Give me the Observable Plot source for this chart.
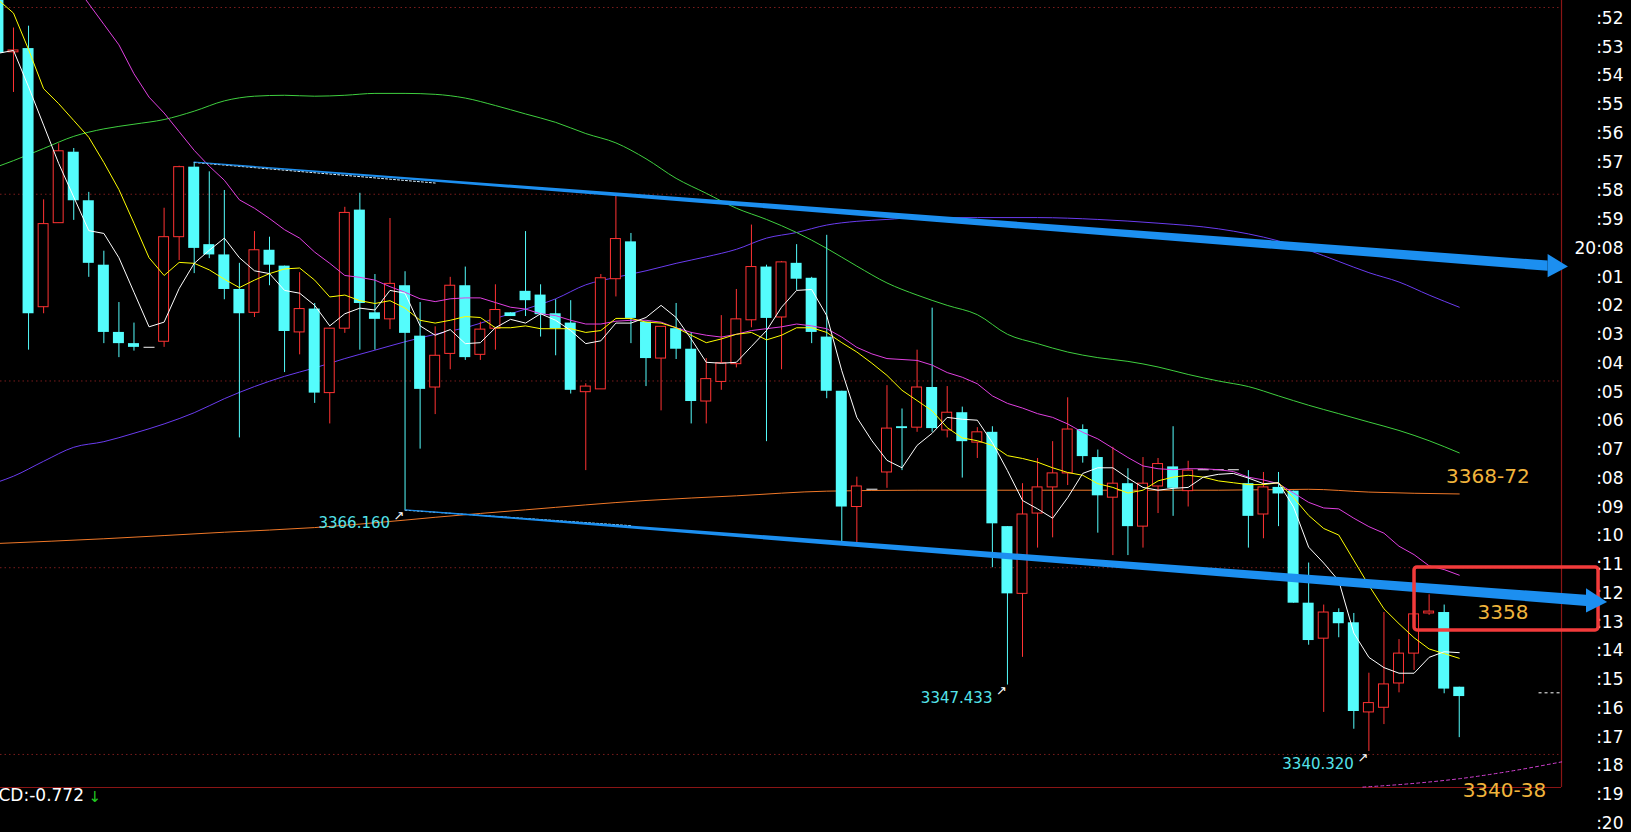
<!DOCTYPE html>
<html><head><meta charset="utf-8">
<script src="https://cdn.jsdelivr.net/npm/d3@7"></script>
<script src="https://cdn.jsdelivr.net/npm/@observablehq/plot@0.6"></script>
<style>
html,body{margin:0;padding:0;background:#000;overflow:hidden;}
#chart svg{display:block;background:#000;}
</style></head><body><div id="chart"></div>
<script>
// ---- candle data (index -1 .. 96) ----
const candleIdx = d3.range(-1, 97);
const opens = [3424.0,3415.2,3415.6,3387.9,3396.9,3404.5,3399.3,3392.4,3385.2,3384.0,3383.6,3384.2,3395.4,3402.9,3394.6,3393.5,3389.8,3387.3,3394.0,3392.3,3385.2,3387.7,3378.7,3385.6,3398.3,3387.3,3386.6,3390.2,3384.8,3379.3,3382.9,3390.2,3382.8,3385.6,3387.3,3389.6,3389.2,3387.2,3386.2,3378.8,3379.1,3390.9,3394.9,3386.3,3382.4,3385.6,3383.4,3377.8,3379.9,3381.8,3386.5,3392.2,3386.8,3392.6,3391.0,3384.7,3378.9,3366.5,3368.4,3370.2,3375.1,3375.0,3379.3,3374.7,3376.6,3373.4,3374.5,3364.4,3357.2,3365.8,3368.6,3370.1,3374.8,3371.8,3367.5,3369.0,3364.4,3368.7,3370.8,3368.2,3370.5,3370.5,3370.5,3369.0,3365.7,3368.6,3368.2,3356.2,3352.4,3355.2,3354.1,3344.5,3345.0,3347.6,3350.8,3355.1,3355.2,3347.2];
const closes = [3415.1,3415.4,3387.2,3396.8,3404.6,3399.3,3392.6,3385.2,3384.0,3383.6,3383.6,3395.4,3402.9,3394.2,3393.5,3389.8,3387.2,3394.0,3392.4,3385.3,3387.7,3378.7,3385.6,3398.0,3388.3,3386.6,3390.4,3385.1,3379.1,3382.7,3390.2,3382.5,3385.5,3387.6,3386.9,3388.6,3387.1,3385.6,3379.0,3379.4,3391.0,3395.2,3386.7,3382.4,3385.8,3383.4,3377.8,3380.2,3381.9,3386.6,3392.2,3386.7,3392.7,3390.9,3385.2,3378.9,3366.5,3368.7,3368.4,3374.9,3374.9,3379.3,3374.9,3376.6,3373.5,3374.5,3364.7,3357.2,3365.7,3368.6,3370.1,3374.8,3371.9,3367.7,3369.0,3364.4,3369.0,3371.1,3368.5,3370.4,3370.5,3370.5,3370.5,3365.5,3368.6,3367.9,3356.2,3352.2,3355.2,3354.0,3344.6,3345.5,3347.5,3350.8,3355.0,3355.3,3347.0,3346.2];
const highs = [3425.0,3417.8,3418.0,3399.4,3405.4,3404.9,3400.2,3393.9,3388.4,3386.2,3383.6,3398.5,3403.0,3403.4,3402.4,3400.4,3392.6,3396.0,3395.4,3392.3,3391.6,3388.3,3385.6,3398.6,3400.1,3391.4,3397.4,3391.7,3388.4,3385.8,3391.1,3392.2,3386.3,3390.3,3387.3,3396.0,3390.3,3388.7,3388.6,3379.7,3391.4,3399.9,3395.8,3386.3,3385.8,3388.3,3385.2,3382.4,3387.0,3389.8,3396.7,3392.4,3392.8,3394.6,3391.1,3395.6,3378.9,3369.7,3368.4,3379.5,3377.0,3383.3,3387.8,3379.4,3377.2,3375.0,3375.1,3364.4,3369.0,3371.7,3373.5,3378.2,3375.3,3372.6,3372.9,3370.6,3371.8,3371.7,3375.1,3371.4,3370.5,3370.5,3370.5,3370.4,3370.2,3370.2,3368.2,3360.5,3356.0,3355.6,3355.1,3348.7,3355.2,3352.3,3355.0,3357.1,3356.0,3347.2];
const lows = [3415.1,3410.9,3383.3,3387.2,3396.9,3397.2,3391.1,3384.0,3382.5,3383.2,3383.6,3383.6,3392.9,3391.5,3393.1,3388.7,3373.9,3386.8,3390.2,3380.9,3382.8,3377.6,3375.4,3385.1,3383.3,3383.3,3385.5,3366.16,3372.7,3376.4,3381.2,3382.2,3382.2,3383.3,3386.9,3386.9,3384.7,3382.7,3378.6,3370.4,3379.1,3389.0,3384.0,3379.4,3376.8,3382.3,3375.4,3375.4,3379.0,3381.4,3385.7,3373.5,3381.2,3389.7,3384.0,3378.1,3362.7,3362.7,3368.4,3368.5,3370.4,3374.5,3374.5,3373.9,3369.6,3371.7,3360.0,3347.433,3350.4,3362.1,3363.2,3368.8,3371.2,3363.7,3361.3,3361.3,3362.1,3365.8,3365.5,3366.5,3370.5,3370.5,3370.5,3362.1,3363.1,3364.4,3356.2,3351.7,3344.5,3352.5,3342.7,3340.32,3343.2,3346.6,3349.0,3354.9,3346.5,3341.8];

// ---- moving averages ----
const ma5 = [3415.1,3415.4,3411.5,3407.4,3403.3,3399.7,3396.1,3395.8,3393.2,3389.5,3385.8,3386.3,3389.9,3392.6,3394.0,3395.3,3393.2,3391.8,3391.5,3389.7,3389.4,3388.1,3385.9,3387.2,3387.8,3387.6,3389.7,3389.4,3385.9,3384.9,3385.5,3384.0,3384.1,3385.7,3386.6,3386.2,3387.2,3386.5,3385.4,3384.0,3384.3,3386.2,3386.2,3386.8,3388.1,3386.8,3384.5,3382.0,3381.9,3382.0,3383.7,3385.4,3387.9,3389.7,3389.8,3387.0,3381.1,3376.1,3373.6,3371.5,3370.7,3373.1,3374.4,3376.1,3375.9,3375.8,3373.4,3370.4,3367.2,3366.3,3365.3,3367.5,3370.1,3370.7,3370.7,3369.6,3368.6,3368.3,3368.5,3368.6,3369.7,3370.0,3370.1,3369.6,3369.0,3369.1,3366.5,3362.2,3360.5,3358.6,3353.0,3350.4,3349.3,3348.7,3348.7,3350.4,3351.0,3350.9];
const ma10 = [3420.8,3419.4,3415.5,3411.3,3409.7,3407.9,3406.1,3403.4,3400.5,3396.9,3393.2,3391.3,3392.7,3392.6,3391.9,3390.9,3390.0,3390.8,3391.5,3392.0,3392.1,3390.8,3389.0,3389.2,3388.6,3388.3,3388.6,3387.8,3386.5,3386.2,3386.5,3386.9,3386.8,3385.7,3385.7,3385.9,3385.6,3385.6,3385.6,3385.2,3385.4,3386.7,3386.7,3386.3,3386.2,3385.7,3384.9,3384.1,3384.5,3385.0,3385.2,3384.4,3384.9,3385.7,3385.7,3385.2,3384.1,3383.1,3381.9,3380.6,3379.0,3377.9,3376.8,3375.0,3373.9,3373.6,3373.1,3372.0,3371.7,3371.3,3370.7,3370.2,3369.9,3369.0,3368.6,3368.0,3368.3,3369.3,3369.7,3369.9,3369.7,3369.3,3369.1,3368.9,3368.9,3369.1,3367.5,3365.6,3364.2,3363.5,3360.8,3358.1,3355.6,3354.0,3352.5,3351.3,3350.8,3350.3];
const ma20Idx = d3.range(3, 97);
const ma20 = [3424.7,3422.6,3420.4,3418.2,3416.0,3412.9,3410.4,3408.7,3406.7,3404.7,3403.0,3401.5,3399.4,3398.5,3397.4,3396.2,3395.3,3393.8,3392.6,3391.3,3391.1,3390.8,3390.1,3389.5,3388.8,3388.5,3388.8,3388.9,3388.9,3388.4,3387.9,3387.7,3387.2,3387.0,3386.5,3386.1,3386.1,3386.4,3386.5,3386.5,3386.3,3385.7,3385.2,3384.9,3384.7,3385.0,3385.4,3385.6,3385.8,3386.1,3385.9,3385.6,3384.7,3383.6,3382.9,3382.4,3382.3,3382.2,3381.7,3380.9,3380.4,3379.7,3378.4,3377.6,3377.1,3376.5,3376.1,3375.4,3374.5,3373.8,3372.8,3371.8,3370.9,3370.6,3370.5,3370.6,3370.6,3370.5,3370.3,3369.7,3369.4,3369.0,3368.0,3367.0,3366.4,3366.3,3365.3,3364.4,3363.7,3362.3,3361.4,3360.2,3359.8,3359.2];
const ma60Idx = [-1,0,2,4,6,8,10,12,14,16,18,20,22,24,26,28,30,32,34,36,38,40,42,44,46,48,50,52,54,56,58,60,62,64,66,68,70,72,74,76,78,80,82,84,86,88,90,92,94,96];
const ma60 = [3403.0,3403.6,3404.9,3406.2,3407.0,3407.5,3408.0,3408.9,3410.0,3410.5,3410.6,3410.5,3410.6,3410.8,3410.8,3410.7,3410.3,3409.5,3408.6,3407.7,3406.5,3405.5,3403.8,3401.7,3400.1,3398.5,3397.3,3395.9,3394.2,3392.3,3390.5,3389.2,3388.1,3387.1,3385.0,3384.0,3383.1,3382.5,3382.1,3381.5,3380.7,3380.0,3379.4,3378.4,3377.4,3376.5,3375.6,3374.7,3373.6,3372.3];
const ma120Idx = [-1,0,2,4,6,8,10,12,14,16,18,20,22,24,26,28,30,32,34,36,38,40,42,44,46,48,50,52,54,56,58,60,64,68,72,76,80,84,86,88,90,92,94,96];
const ma120 = [3369.2,3369.8,3371.4,3372.9,3373.5,3374.4,3375.4,3376.6,3378.1,3379.4,3380.5,3381.4,3382.4,3383.3,3384.2,3385.0,3385.7,3386.7,3387.7,3388.8,3390.3,3391.1,3391.8,3392.6,3393.3,3394.1,3395.3,3395.9,3396.7,3397.1,3397.3,3397.5,3397.5,3397.5,3397.3,3396.9,3396.3,3395.0,3394.0,3392.8,3391.6,3390.6,3389.2,3387.9];
const ma250Idx = [-1,6,14,20,26,28,34,42,48,54,60,80,86,90,96];
const ma250 = [3362.6,3363.1,3363.8,3364.3,3365.1,3365.4,3366.2,3367.2,3367.7,3368.2,3368.3,3368.3,3368.4,3368.1,3367.9];
const lowerBandIdx = [89.6,93,96,99,102.8];
const lowerBand = [3336.5,3336.9,3337.4,3338.1,3339.2];

// ---- axis / grid ----
const gridPrices = [3340,3360,3380,3400,3420];
const axisLabels = [":52",":53",":54",":55",":56",":57",":58",":59","20:08",":01",":02",":03",":04",":05",":06",":07",":08",":09",":10",":11",":12",":13",":14",":15",":16",":17",":18",":19",":20"];
const axisPrices = [3418.82,3415.74,3412.66,3409.58,3406.51,3403.43,3400.35,3397.27,3394.19,3391.11,3388.03,3384.95,3381.87,3378.79,3375.71,3372.64,3369.56,3366.48,3363.40,3360.32,3357.24,3354.16,3351.08,3348.00,3344.92,3341.84,3338.77,3335.69,3332.61];
const xDomain = [-0.863, 102.79];
const yDomain = [3336.46, 3420.75];

// ---- annotations ----
const lowNotes = [{i:26,p:3366.16,t:"3366.160"},{i:66,p:3347.433,t:"3347.433"},{i:90,p:3340.32,t:"3340.320"}];
const goldNotes = [{i:97.9,p:3369.8,t:"3368-72"},{i:98.9,p:3355.2,t:"3358"},{i:99.0,p:3336.1,t:"3340-38"}];
const upperTrend = [{i:12,p:3403.4,w:0.05},{i:101.9,p:3392.3,w:0.55}];
const upperHead = [{i:101.9,p:3392.3,w:1.25},{i:103.25,p:3392.2,w:0}];
const lowerTrend = [{i:26,p:3366.16,w:0.05},{i:104.45,p:3356.45,w:0.6}];
const lowerHead = [{i:104.45,p:3356.45,w:1.3},{i:105.85,p:3356.28,w:0}];
const upperDotted = [{i:12,p:3403.4},{i:28,p:3401.2}];
const lowerDotted = [{i:26,p:3366.16},{i:41,p:3364.5}];
const boxZone = [{i1:93.03,i2:105.25,p1:3353.28,p2:3360.03}];
const lastMarker = [{i1:101.3,i2:102.79,p:3346.6}];
const macdLabel = ["CD:-0.772"];

// ---- build tables ----
const candles = candleIdx.map((i,j)=>({i,o:opens[j],c:closes[j],h:highs[j],l:lows[j]}));
const downs = candles.filter(d=>d.c<d.o);
const ups = candles.filter(d=>d.c>d.o);
const dojis = candles.filter(d=>d.c===d.o);
const series = (idx, vals) => idx.map((i,j)=>({i, v: vals[j]}));
const axisTicks = axisLabels.map((t,j)=>({t, p: axisPrices[j]}));

const CYAN = "#54fcfc", RED = "#ff3333", BLUE = "#1c8ff0";
const hw = 0.365, hwh = 0.33;

const chart = Plot.plot({
  width: 1631, height: 832,
  marginLeft: 0, marginRight: 70, marginTop: 0, marginBottom: 45,
  style: {background: "#000", fontFamily: "'DejaVu Sans', sans-serif", overflow: "visible"},
  x: {domain: xDomain, axis: null},
  y: {domain: yDomain, axis: null},
  marks: [
    Plot.ruleY(gridPrices, {stroke: "#7a1c1c", strokeDasharray: "1.5,3"}),
    Plot.ruleY([yDomain[0]], {stroke: "#8a1515", strokeWidth: 1.2}),
    Plot.ruleX([xDomain[1]], {stroke: "#8a1515", strokeWidth: 1.2}),
    // long MAs
    Plot.line(series(ma250Idx, ma250), {x:"i", y:"v", stroke:"#f07828", strokeWidth:1, curve:"monotone-x", clip:true}),
    Plot.line(series(ma120Idx, ma120), {x:"i", y:"v", stroke:"#6a3cf0", strokeWidth:1, curve:"monotone-x", clip:true}),
    Plot.line(series(ma60Idx, ma60), {x:"i", y:"v", stroke:"#3fcf3f", strokeWidth:1, curve:"monotone-x", clip:true}),
    // candles
    Plot.ruleX(downs, {x:"i", y1:"l", y2:"h", stroke: CYAN, clip:true}),
    Plot.ruleX(ups, {x:"i", y1:"l", y2:"h", stroke: RED, clip:true}),
    Plot.rect(downs, {x1: d=>d.i-hw, x2: d=>d.i+hw, y1:"o", y2:"c", fill: CYAN, clip:true}),
    Plot.rect(ups, {x1: d=>d.i-hwh, x2: d=>d.i+hwh, y1:"o", y2:"c", fill:"#000", stroke: RED, strokeWidth:1, clip:true}),
    Plot.link(dojis, {x1: d=>d.i-hw, x2: d=>d.i+hw, y1:"o", y2:"c", stroke:"#bdbdbd", strokeWidth:1.3, clip:true}),
    // short MAs
    Plot.line(series(ma20Idx, ma20), {x:"i", y:"v", stroke:"#e040e0", strokeWidth:1, clip:true}),
    Plot.line(series(candleIdx, ma10), {x:"i", y:"v", stroke:"#ffff00", strokeWidth:1, clip:true}),
    Plot.line(series(candleIdx, ma5), {x:"i", y:"v", stroke:"#ffffff", strokeWidth:1, clip:true}),
    Plot.line(series(lowerBandIdx, lowerBand), {x:"i", y:"v", stroke:"#d040d0", strokeWidth:1, strokeDasharray:"3,3", curve:"monotone-x"}),
    // trend lines
    Plot.line(upperDotted, {x:"i", y:"p", stroke:"#d8f0ff", strokeWidth:1, strokeDasharray:"2,2"}),
    Plot.line(lowerDotted, {x:"i", y:"p", stroke:"#bfefff", strokeWidth:1, strokeDasharray:"2,2"}),
    Plot.areaY(upperTrend, {x:"i", y1: d=>d.p-d.w, y2: d=>d.p+d.w, fill: BLUE}),
    Plot.areaY(lowerTrend, {x:"i", y1: d=>d.p-d.w, y2: d=>d.p+d.w, fill: BLUE}),
    // low annotations
    Plot.text(lowNotes, {x:"i", y:"p", text:"t", fill:"#55e3ea", fontSize:15, textAnchor:"end", dx:-15, dy:13}),
    Plot.text(lowNotes, {x:"i", y:"p", text: () => "↗", fill:"#ffffff", fontSize:13, dx:-6, dy:6}),
    // gold notes
    Plot.text(goldNotes, {x:"i", y:"p", text:"t", fill:"#f0b43c", fontSize:20}),
    // last price marker
    Plot.ruleY(lastMarker, {x1:"i1", x2:"i2", y:"p", stroke:"#ffffff", strokeDasharray:"3,3"}),
    // right axis labels
    Plot.text(axisTicks, {y:"p", text:"t", frameAnchor:"right", textAnchor:"end", dx:62, fill:"#ffffff", fontSize:17}),
    // box and arrowheads over labels
    Plot.rect(boxZone, {x1:"i1", x2:"i2", y1:"p1", y2:"p2", fill:"none", stroke:"#f23b3b", strokeWidth:3.5, rx:3}),
    Plot.areaY(upperHead, {x:"i", y1: d=>d.p-d.w, y2: d=>d.p+d.w, fill: BLUE}),
    Plot.areaY(lowerHead, {x:"i", y1: d=>d.p-d.w, y2: d=>d.p+d.w, fill: BLUE}),
    // MACD label
    Plot.text(macdLabel, {frameAnchor:"bottom-left", text: d=>d, textAnchor:"start", dx:-2, dy:13, fill:"#ffffff", fontSize:17}),
    Plot.text(["↓"], {frameAnchor:"bottom-left", text: d=>d, textAnchor:"start", dx:88, dy:14, fill:"#22cc22", fontSize:15})
  ]
});
document.getElementById("chart").appendChild(chart);
</script>
</body></html>
